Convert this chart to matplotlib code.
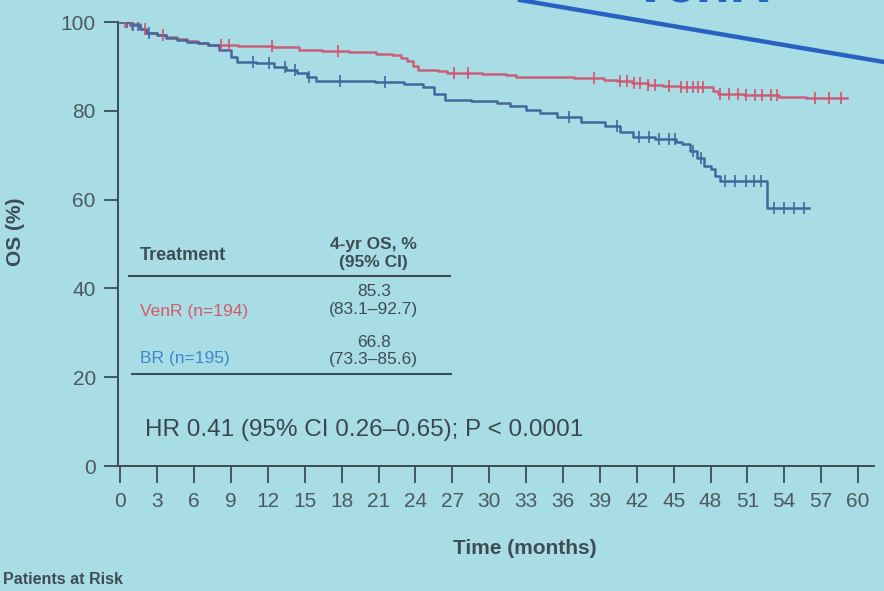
import numpy as np
import matplotlib.pyplot as plt
from matplotlib.lines import Line2D

plt.rcParams['font.family'] = ['Liberation Sans', 'DejaVu Sans']

# Kaplan-Meier steps: time (months) -> overall survival (%)
venr_t = [0, 0.8, 1.6, 2.1, 3.0, 3.7, 4.6, 5.4, 6.3, 7.1, 9.6, 12.4, 14.5, 16.4,
          18.6, 20.8, 22.1, 22.8, 23.3, 23.8, 24.2, 25.8, 26.6, 29.4, 31.4, 32.2,
          34.6, 36.9, 39.3, 40.4, 41.6, 42.9, 44.1, 45.5, 48.2, 48.6, 50.7, 53.6,
          55.8, 59.1]
venr_os = [100, 99.5, 98.5, 97.6, 97.1, 96.6, 96.1, 95.7, 95.3, 94.9, 94.6, 94.3,
           93.8, 93.5, 93.2, 92.9, 92.6, 92.0, 91.2, 90.2, 89.3, 88.9, 88.5, 88.3,
           88.0, 87.7, 87.5, 87.3, 87.0, 86.6, 86.2, 85.8, 85.5, 85.3, 84.5, 83.8,
           83.5, 83.1, 82.8, 82.8]
venr_cens = [0.4, 0.9, 2.0, 3.5, 8.2, 8.8, 12.3, 17.7, 27.1, 28.3, 38.5, 40.6,
             41.2, 41.8, 42.3, 42.9, 43.5, 44.6, 45.6, 46.1, 46.6, 47.0, 47.4,
             48.8, 49.5, 50.2, 50.9, 51.6, 52.2, 52.9, 53.4, 56.5, 57.6, 58.6]

br_t = [0, 0.8, 1.6, 2.1, 3.0, 3.7, 4.6, 5.4, 6.3, 7.1, 8.0, 9.0, 9.5, 11.0, 12.5,
        13.5, 14.4, 15.2, 15.9, 18.3, 20.7, 23.1, 24.6, 25.5, 26.4, 28.5, 30.6,
        31.7, 33.0, 34.1, 35.5, 37.5, 39.4, 40.6, 41.7, 43.5, 45.2, 45.7, 46.3,
        46.9, 47.5, 48.0, 48.4, 48.8, 52.6, 56.0]
br_os = [100, 99.3, 98.4, 97.6, 97.0, 96.5, 96.0, 95.5, 95.2, 94.8, 93.7, 92.1,
         91.0, 90.7, 89.9, 89.2, 88.5, 87.6, 86.8, 86.6, 86.4, 86.1, 85.3, 83.8,
         82.4, 82.1, 81.8, 81.0, 80.2, 79.5, 78.5, 77.5, 76.6, 75.3, 74.2, 73.6,
         72.9, 72.6, 71.0, 69.3, 67.6, 66.8, 65.4, 64.3, 58.0, 58.0]
br_cens = [0.5, 1.0, 1.4, 2.3, 10.8, 12.1, 13.4, 14.2, 15.3, 17.9, 21.5, 36.5,
           40.4, 42.2, 43.0, 43.8, 44.6, 45.1, 46.6, 47.2, 49.2, 50.0, 50.9, 51.5,
           52.1, 53.2, 54.0, 54.8, 55.6]

months = np.arange(0, 61, 3)
os_ticks = np.arange(0, 101, 20)

arms = ['VenR (n=194)', 'BR (n=195)']
os_4yr = [85.3, 66.8]
os_ci = ['(83.1–92.7)', '(73.3–85.6)']
hr_text = 'HR 0.41 (95% CI 0.26–0.65); P < 0.0001'

bg = '#a9dde5'
ink = '#3e4d55'
red = '#c9607a'
blue = '#40689c'


def surv_at(t_steps, v_steps, tc):
    idx = np.searchsorted(t_steps, tc, side='right') - 1
    return np.asarray(v_steps)[idx]


fig = plt.figure(figsize=(8.84, 5.91), dpi=100, facecolor=bg)
ax = fig.add_axes([118 / 884, 125 / 591, 756 / 884, 444 / 591])
ax.set_facecolor(bg)

ax.step(venr_t, venr_os, where='post', color=red, lw=1.8, zorder=3)
ax.step(br_t, br_os, where='post', color=blue, lw=1.8, zorder=3)
ax.plot(venr_cens, surv_at(venr_t, venr_os, venr_cens), ls='none', marker='|',
        ms=9, mew=1.2, color='#d84f6c', zorder=4)
ax.plot(br_cens, surv_at(br_t, br_os, br_cens), ls='none', marker='|',
        ms=9, mew=1.2, color=blue, zorder=4)

ax.set_xlim(-0.2, 61.3)
ax.set_ylim(0, 100)
ax.set_xticks(months)
ax.set_yticks(os_ticks)
for s in ['top', 'right']:
    ax.spines[s].set_visible(False)
for s in ['left', 'bottom']:
    ax.spines[s].set_color(ink)
    ax.spines[s].set_linewidth(1.4)
ax.tick_params(axis='both', colors=ink, labelcolor='#4b5961', labelsize=15,
               width=1.3)
ax.tick_params(axis='y', length=10, pad=6)
ax.tick_params(axis='x', length=12, pad=7)

# table of 4-year OS
ax.text(1.6, 47.3, 'Treatment', fontsize=13, fontweight='bold', color=ink,
        ha='left', va='center')
ax.text(20.6, 47.9, '4-yr OS, %\n(95% CI)', fontsize=12.5, fontweight='semibold',
        color=ink, ha='center', va='center')
ax.plot([0.7, 26.8], [42.8, 42.8], color=ink, lw=1.5)
row_y = [34.8, 24.3]
cell_y = [37.3, 25.9]
for name, val, ci, ry, cy, col in zip(arms, os_4yr, os_ci, row_y, cell_y,
                                      ['#d65a6c', '#3b88cc']):
    ax.text(1.6, ry, name, fontsize=12.5, color=col, ha='left', va='center')
    ax.text(20.6, cy, f'{val}\n{ci}', fontsize=12.5, color=ink, ha='center',
            va='center')
ax.plot([0.9, 26.9], [20.8, 20.8], color=ink, lw=1.5)

ax.text(2.0, 8.0, hr_text, fontsize=17.5, color='#3a474e', ha='left',
        va='center')

fig.text(0.018, 1 - 232 / 591, 'OS (%)', rotation=90, fontsize=15,
         fontweight='bold', color=ink, ha='center', va='center')
fig.text(525 / 884, 1 - 548 / 591, 'Time (months)', fontsize=15,
         fontweight='bold', color=ink, ha='center', va='center')
fig.text(3 / 884, 4 / 591, 'Patients at Risk', fontsize=11.5,
         fontweight='bold', color=ink, ha='left', va='bottom')

# slide title and its underline at the top edge
fig.add_artist(Line2D([520 / 884, 1.0], [1.0, 1 - 62 / 591], color='#2762c2',
                      lw=3.2))
fig.text(770 / 884, 1 - 14 / 591, 'VenR', fontsize=40, fontweight='bold',
         color='#2762c2', ha='right', va='bottom')

fig.savefig('out.png', dpi=100, facecolor=bg)
